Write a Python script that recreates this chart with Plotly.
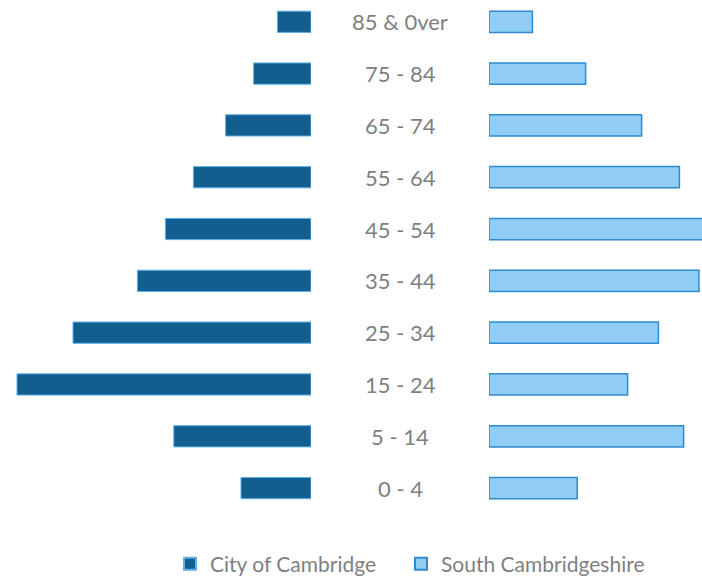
import plotly.graph_objects as go

categories = ["0 - 4", "5 - 14", "15 - 24", "25 - 34", "35 - 44",
              "45 - 54", "55 - 64", "65 - 74", "75 - 84", "85 & 0ver"]
city_of_cambridge = [5.0, 9.8, 21.0, 17.0, 12.4, 10.4, 8.4, 6.1, 4.1, 2.4]
south_cambridgeshire = [6.3, 13.9, 9.9, 12.1, 15.0, 15.4, 13.6, 10.9, 6.9, 3.1]
series_names = ["City of Cambridge", "South Cambridgeshire"]

W, H = 702, 576
DARK = "#115e8f"
LIGHT = "#91cdf4"
FONT = "Lato"
GREY = "#7f7f7f"

fig = go.Figure()
fig.add_trace(go.Bar(
    y=categories, x=city_of_cambridge, orientation="h", name=series_names[0],
    marker=dict(color=DARK, line=dict(color="#5fb0e8", width=1)),
    xaxis="x", yaxis="y", width=0.41, hoverinfo="x+y", legend="legend",
))
fig.add_trace(go.Bar(
    y=categories, x=south_cambridgeshire, orientation="h", name=series_names[1],
    marker=dict(color=LIGHT, line=dict(color="#2f8ad0", width=1.5)),
    xaxis="x2", yaxis="y", width=0.41, hoverinfo="x+y", legend="legend2",
))

for c in categories:
    fig.add_annotation(x=400 / W, xref="paper", y=c, yref="y", text=c,
                       showarrow=False, xanchor="center", yanchor="middle",
                       font=dict(family=FONT, size=22, color=GREY))

legend_common = dict(orientation="h", xanchor="left", y=-0.0973, yanchor="middle",
                     font=dict(family=FONT, size=21, color=GREY), itemsizing="constant",
                     bgcolor="rgba(0,0,0,0)")

fig.update_layout(
    width=W, height=H,
    margin=dict(l=0, r=0, t=0, b=62, autoexpand=False),
    paper_bgcolor="white", plot_bgcolor="white",
    barmode="overlay",
    xaxis=dict(domain=[0, 311 / W], range=[311 / 14, 0], visible=False, fixedrange=True),
    xaxis2=dict(domain=[489 / W, 1], range=[0, 213 / 14], visible=False, fixedrange=True),
    yaxis=dict(type="category", categoryorder="array", categoryarray=categories,
               range=[-0.5, 9.42], visible=False, fixedrange=True),
    showlegend=True,
    legend=dict(x=170 / W, **legend_common),
    legend2=dict(x=401 / W, **legend_common),
)

fig.write_html("out.html", config={"displayModeBar": False},
               post_script="document.body.style.margin='0px';")
